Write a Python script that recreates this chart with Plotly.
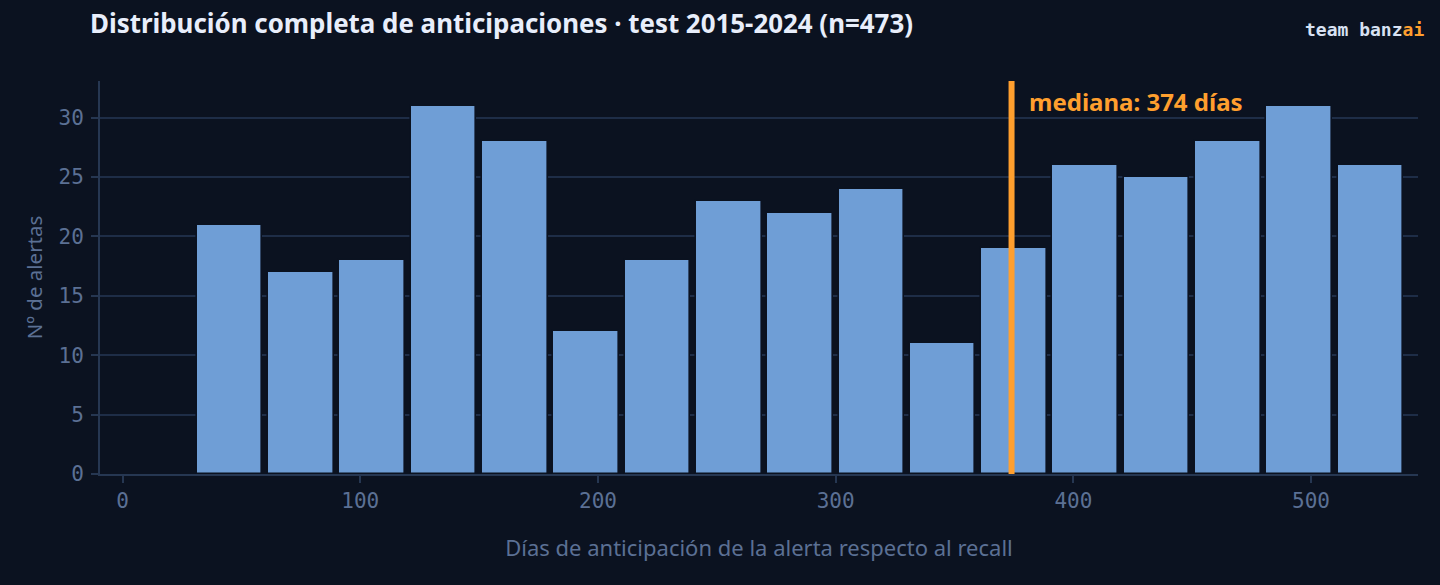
import plotly.graph_objects as go

# histogram of alert lead times, bins are 30 days wide
bin_centers = [45, 75, 105, 135, 165, 195, 225, 255, 285, 315, 345, 375, 405, 435, 465, 495, 525]
bin_counts = [21, 17, 18, 31, 28, 12, 18, 23, 22, 24, 11, 19, 26, 25, 28, 31, 26]
median_days = 374

x_ticks = [0, 100, 200, 300, 400, 500]
y_ticks = [0, 5, 10, 15, 20, 25, 30]

title_text = "Distribución completa de anticipaciones · test 2015-2024 (n=473)"
x_title = "Días de anticipación de la alerta respecto al recall"
y_title = "Nº de alertas"

bg = "#0b1220"
grid = "#1e2d47"
axis_line = "#263752"
muted = "#5b7094"
bar_color = "#6f9ed6"
orange = "#ff9f2e"
white = "#e8eefb"
tag_white = "#d8e1f2"
sans = "Noto Sans"
mono = "DejaVu Sans Mono"

fig = go.Figure()
fig.add_trace(go.Bar(x=bin_centers, y=bin_counts, width=27.6,
                     marker=dict(color=bar_color, line=dict(color=bg, width=1.6)),
                     showlegend=False))

# median marker sits on top of the bars
fig.add_shape(type="line", x0=median_days, x1=median_days, y0=0, y1=1,
              xref="x", yref="paper", layer="above",
              line=dict(color=orange, width=6))
fig.add_annotation(x=median_days, y=1, xref="x", yref="paper", yanchor="top", xanchor="left",
                   xshift=15, yshift=-2, showarrow=False, text="<b>mediana: %d días</b>" % median_days,
                   font=dict(family=sans, size=24, color=orange))

# team tag, top right
fig.add_annotation(x=1.006, y=1.131, xref="paper", yref="paper", xanchor="right", yanchor="middle",
                   showarrow=False,
                   text="<b>team banz<span style='color:%s'>ai</span></b>" % orange,
                   font=dict(family=mono, size=18, color=tag_white))

fig.update_layout(
    width=1440, height=585,
    margin=dict(l=100, r=22, t=81, b=111, autoexpand=False),
    paper_bgcolor=bg, plot_bgcolor=bg,
    bargap=0,
    title=dict(text="<b>%s</b>" % title_text, x=90 / 1440, xanchor="left", xref="container",
               y=1 - 24 / 585, yanchor="middle", yref="container",
               font=dict(family=sans, size=25.9, color=white)),
)
fig.update_xaxes(range=[-9.5, 545], tickvals=x_ticks, showgrid=False, zeroline=False,
                 showline=True, linecolor=axis_line, linewidth=2,
                 ticks="outside", ticklen=7, tickwidth=2, tickcolor=axis_line,
                 tickfont=dict(family=mono, size=21, color=muted),
                 title=dict(text=x_title, standoff=28, font=dict(family=sans, size=22, color=muted)))
fig.update_yaxes(range=[0, 33.08], tickvals=y_ticks, showgrid=True, gridcolor=grid, gridwidth=2,
                 zeroline=False, showline=True, linecolor=axis_line, linewidth=2,
                 ticks="outside", ticklen=7, tickwidth=2, tickcolor=axis_line,
                 tickfont=dict(family=mono, size=21, color=muted), ticklabelstandoff=3,
                 title=dict(text=y_title, standoff=10, font=dict(family=sans, size=20.5, color=muted)))

# the browser's default body margin would shift the whole figure
fig.write_html("out.html", config={"displayModeBar": False},
               post_script="document.body.style.margin='0';document.body.style.background='%s';" % bg)
